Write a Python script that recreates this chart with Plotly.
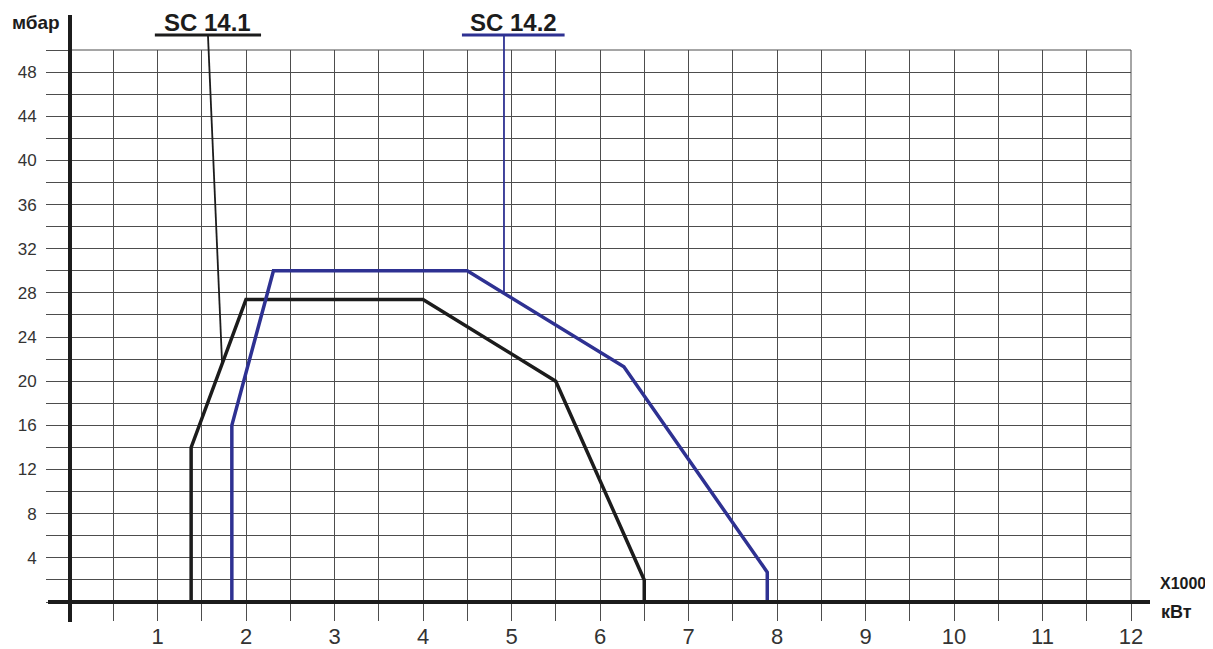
import plotly.graph_objects as go

# Data (x: kW x1000, y: mbar)
sc141_x = [1.38, 1.38, 2.0, 4.0, 5.5, 6.5, 6.5]
sc141_y = [0, 14, 27.4, 27.4, 20, 2, 0]
sc142_x = [1.84, 1.84, 2.31, 4.5, 6.27, 7.89, 7.89]
sc142_y = [0, 16, 30, 30, 21.3, 2.7, 0]

series_names = ["SC 14.1", "SC 14.2"]
series_colors = ["#1c1c1c", "#2e3192"]

x_ticks = list(range(1, 13))
y_ticks = list(range(4, 49, 4))

# leader targets (point on each curve the label points to)
leader_x = [1.73, 4.915]
leader_y = [21.6, 28.0]
label_x = [1.57, 5.02]
underline_x0 = [0.97, 4.44]
underline_x1 = [2.17, 5.60]
leader_top_x = [1.57, 4.915]

# page body has an 8px margin; compensate so the plot area sits at 69..1131 x 50..602
OFF = 8
W, H = 1213 - OFF, 649 - OFF
PL, PR, PT, PB = 69, 1131, 50, 602
L = PL - OFF
R = OFF + W - PR
T = PT - OFF
B = OFF + H - PB
pw = PR - PL
ph = PB - PT

fig = go.Figure()
for xs, ys, name, col in zip([sc141_x, sc142_x], [sc141_y, sc142_y], series_names, series_colors):
    fig.add_trace(go.Scatter(x=xs, y=ys, mode="lines", name=name,
                             line=dict(color=col, width=3.5), showlegend=False))

grid_col = "#4d4d4d"
fig.update_xaxes(range=[0, 12], tickmode="array", tickvals=x_ticks,
                 ticktext=[str(v) for v in x_ticks],
                 ticks="outside", ticklen=18, tickcolor=grid_col, tickwidth=1,
                 showgrid=True, gridcolor=grid_col, gridwidth=1,
                 minor=dict(tickmode="linear", tick0=0, dtick=0.5, ticks="outside", ticklen=18,
                            tickcolor=grid_col, showgrid=True, gridcolor=grid_col, gridwidth=1),
                 tickfont=dict(family="Liberation Sans", size=22, color="#333"),
                 ticklabelstandoff=-3,
                 automargin=False,
                 zeroline=False, showline=False, fixedrange=True)
fig.update_yaxes(range=[0, 50], tickmode="array", tickvals=y_ticks,
                 ticktext=[str(v) for v in y_ticks],
                 ticks="outside", ticklen=22, tickcolor=grid_col, tickwidth=1,
                 showgrid=True, gridcolor=grid_col, gridwidth=1,
                 minor=dict(tickmode="linear", tick0=0, dtick=2, ticks="outside", ticklen=22,
                            tickcolor=grid_col, showgrid=True, gridcolor=grid_col, gridwidth=1),
                 tickfont=dict(family="Liberation Sans", size=17, color="#333"),
                 ticklabelstandoff=6,
                 automargin=False,
                 zeroline=False, showline=False, fixedrange=True)

def py(pix):
    return (PB - pix) / ph

def px(pix):
    return (pix - PL) / pw

shapes = []
shapes.append(dict(type="line", xref="paper", yref="paper", x0=0, x1=1, y0=1, y1=1,
                   line=dict(color=grid_col, width=1)))
shapes.append(dict(type="line", xref="paper", yref="paper", x0=1, x1=1, y0=0, y1=1,
                   line=dict(color=grid_col, width=1)))
# extended axis lines
shapes.append(dict(type="line", xref="paper", yref="paper", x0=px(70), x1=px(70), y0=py(622), y1=py(15),
                   line=dict(color="#1c1c1c", width=4)))
shapes.append(dict(type="line", xref="paper", yref="paper", x0=px(48), x1=px(1150), y0=0, y1=0,
                   line=dict(color="#1c1c1c", width=4)))

annotations = []
for i, name in enumerate(series_names):
    col = series_colors[i]
    shapes.append(dict(type="line", xref="x", yref="paper", x0=underline_x0[i], x1=underline_x1[i],
                       y0=py(35), y1=py(35), line=dict(color=col, width=3)))
    shapes.append(dict(type="line", xref="x", yref="paper", x0=leader_top_x[i], x1=leader_x[i],
                       y0=py(35), y1=leader_y[i] / 50.0, line=dict(color=col, width=1.8)))
    annotations.append(dict(text="<b>" + name + "</b>", xref="x", yref="paper", x=label_x[i], y=py(23),
                            showarrow=False, xanchor="center", yanchor="middle",
                            font=dict(family="Liberation Sans", size=24, color="#1c1c1c")))

annotations.append(dict(text="<b>мбар</b>", xref="paper", yref="paper", x=px(36), y=py(22),
                        showarrow=False, xanchor="center", yanchor="middle",
                        font=dict(family="Liberation Sans", size=19, color="#1c1c1c")))
annotations.append(dict(text="<b>X1000</b>", xref="paper", yref="paper", x=px(1183), y=py(583),
                        showarrow=False, xanchor="center", yanchor="middle",
                        font=dict(family="Liberation Sans", size=16, color="#1c1c1c")))
annotations.append(dict(text="<b>кВт</b>", xref="paper", yref="paper", x=px(1176), y=py(612),
                        showarrow=False, xanchor="center", yanchor="middle",
                        font=dict(family="Liberation Sans", size=18, color="#1c1c1c")))

fig.update_layout(width=W, height=H, margin=dict(l=L, r=R, t=T, b=B, autoexpand=False),
                  paper_bgcolor="white", plot_bgcolor="white",
                  shapes=shapes, annotations=annotations, showlegend=False)

fig.write_html("out.html")
